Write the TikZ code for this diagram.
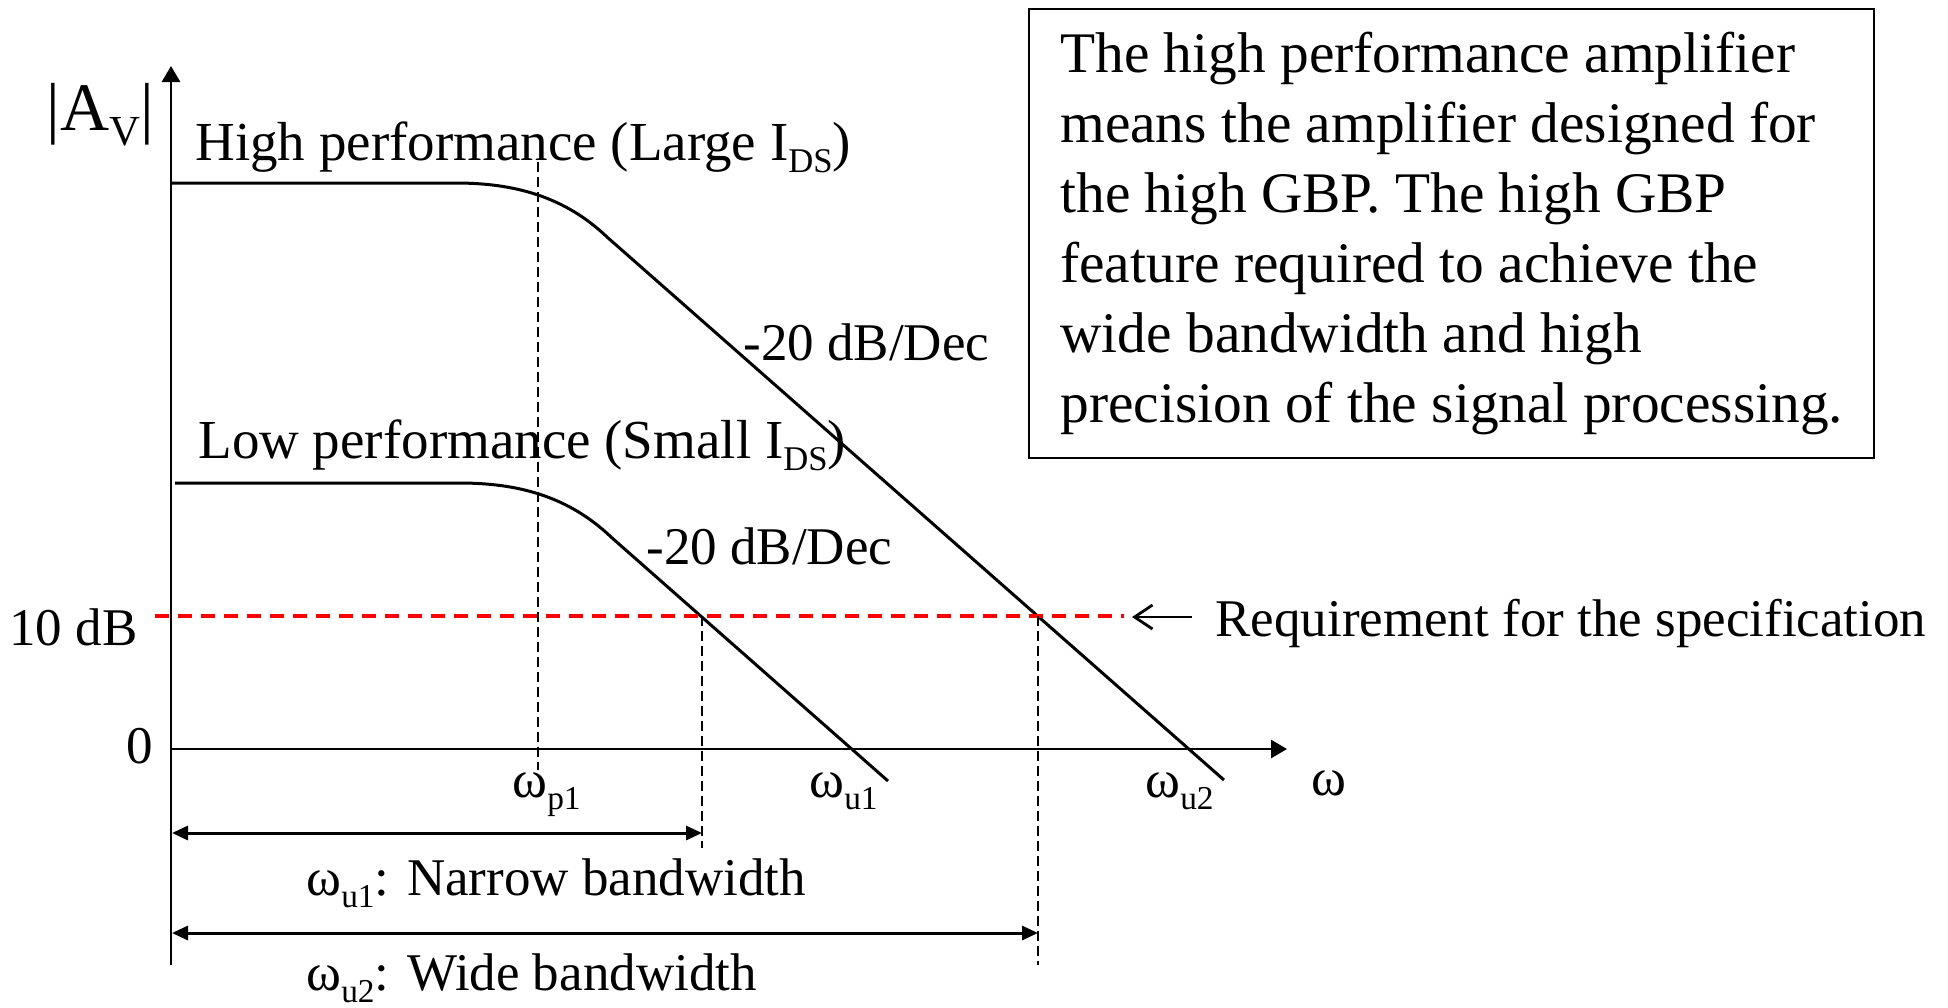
\documentclass[tikz,border=0pt]{standalone}
\usepackage{fontspec}
\setmainfont{Liberation Serif}
\usepackage{tikz}
\usetikzlibrary{arrows.meta,positioning}
\newcommand\lsub[1]{\raisebox{-0.23em}{\scalebox{0.63}{#1}}}

\begin{document}
\begin{tikzpicture}[x=0.5pt,y=-0.5pt]
        \tikzstyle{lbl}=[inner sep=0pt,anchor=base west,font=\fontsize{26.5}{30}\selectfont]
        \tikzstyle{big}=[font=\fontsize{27.5}{31}\selectfont]
        \tikzstyle{curve}=[line width=1.5pt,line join=round]
        \tikzstyle{axis}=[line width=1.4pt,-{Triangle[length=8pt,width=9pt]}]
        \tikzstyle{guide}=[line width=0.9pt,dash pattern=on 5pt off 2.5pt]
        \tikzstyle{spec}=[red,line width=2pt,dash pattern=on 7pt off 4.5pt]
        \tikzstyle{span}=[line width=1.5pt,{Triangle[length=8pt,width=7pt]}-{Triangle[length=8pt,width=7pt]}]
        \useasboundingbox (0,0) rectangle (1948,1007);

        % axes
        \coordinate (O) at (171,749);
        \coordinate (yTop) at (171,66);
        \coordinate (yBot) at (171,965);
        \coordinate (xEnd) at (1287,749);
        \draw[axis] (O) -- (yTop);
        \draw[line width=0.8pt] (O) -- (yBot);
        \draw[axis] (O) -- (xEnd);

        % gain curves (high, low)
        \foreach \dx/\dy/\ex/\ey in {0/0/1224/780,4/300/884/481}
            \draw[curve,shift={(\dx,\dy)}] (171,183) -- (455,183)
                .. controls (505,183) and (560,192) .. (607,237) -- (\ex,\ey);

        % specification line
        \coordinate (rL) at (155,616);
        \coordinate (rR) at (1124,616);
        \coordinate (c1) at (702,616);
        \coordinate (c2) at (1038,616);
        \draw[spec] (rL) -- (rR);

        % guides
        \coordinate (p1T) at (538,162);
        \coordinate (p1B) at (538,770);
        \coordinate (c1B) at (702,848);
        \coordinate (c2B) at (1038,965);
        \draw[guide] (p1T) -- (p1B);
        \draw[guide] (c1) -- (c1B);
        \draw[guide] (c2) -- (c2B);

        % bandwidths
        \coordinate (nL) at (172,833);
        \coordinate (nR) at (702,833);
        \coordinate (wL) at (172,933);
        \coordinate (wR) at (1038,933);
        \draw[span] (nL) -- (nR);
        \draw[span] (wL) -- (wR);

        \node[lbl,font=\fontsize{34}{38}\selectfont] (Av) at (46,130) {|A\lsub{V}|};
        \node[lbl,big] (Hi) at (195,160) {High performance (Large I\lsub{DS})};
        \node[lbl,big] (Lo) at (198,458) {Low performance (Small I\lsub{DS})};
        \node[lbl] (s1) at (743,360) {-20 dB/Dec};
        \node[lbl] (s2) at (646,564) {-20 dB/Dec};
        \node[lbl,anchor=base east] (ten) at (138,645) {10 dB};
        \node[lbl,anchor=base east] (zero) at (153,763) {0};
        \node[lbl] (wp1) at (512,797) {ω\lsub{p1}};
        \node[lbl] (wu1) at (809,797) {ω\lsub{u1}};
        \node[lbl] (wu2) at (1145,797) {ω\lsub{u2}};
        \node[lbl] (w) at (1311,795) {ω};
        \node[lbl] (nar) at (306,895) {ω\lsub{u1}: Narrow bandwidth};
        \node[lbl] (wid) at (306,990) {ω\lsub{u2}: Wide bandwidth};
        \node[lbl] (req) at (1215,636) {Requirement for the specification};

        \coordinate (aT) at (1192,617);
        \coordinate (aH) at (1132,617);
        \draw[line width=1.4pt,-{Straight Barb[length=9pt,width=12pt]}] (aT) -- (aH);

        \node[draw,line width=1.2pt,anchor=north west,inner sep=0pt,
              minimum height=224.5pt,minimum width=422.5pt,align=left,
              font=\fontsize{28.7}{35}\selectfont] (note) at (1028,8)
            {The high performance amplifier\\ means the amplifier designed for\\
             the high GBP. The high GBP\\ feature required to achieve the\\
             wide bandwidth and high\\ precision of the signal processing.};
\end{tikzpicture}
\end{document}
